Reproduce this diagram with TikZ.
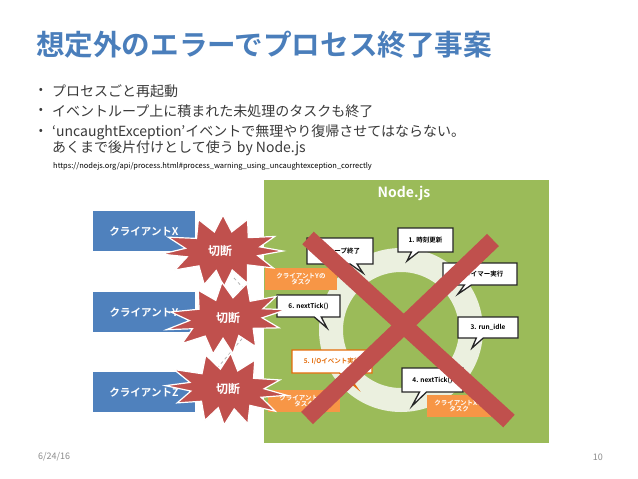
\documentclass[tikz,border=0pt]{standalone}
\usepackage{fontspec}
\setmainfont{Noto Sans CJK JP}[BoldFont={Noto Sans CJK JP Bold}]
\usetikzlibrary{shapes.callouts}
\definecolor{titleblue}{HTML}{4A7EBB}
\definecolor{clientblue}{HTML}{4F81BD}
\definecolor{nodegreen}{HTML}{9BBB59}
\definecolor{ringc}{HTML}{EBF0DF}
\definecolor{xred}{HTML}{C0504D}
\definecolor{taskorange}{HTML}{F79646}
\definecolor{iobrd}{HTML}{E46C0A}
\definecolor{textgray}{HTML}{3A3A3A}
\definecolor{footgray}{HTML}{8C8C8C}
\newcommand{\fs}[1]{\fontsize{#1}{#1}\selectfont}
\tikzset{
  client/.style={fill=clientblue, minimum width=102pt, minimum height=40pt, inner sep=0pt,
    text=white, font=\bfseries\fs{10.5}},
  burstpath/.style={fill=xred, draw=white, line width=1.2pt, line join=miter},
  bursttext/.style={text=white, font=\bfseries\fs{12}, inner sep=0pt},
  bubble/.style={rectangle callout, fill=white, draw=black!85, line width=1.3pt,
    callout pointer width=7pt, inner sep=0pt, font=\bfseries\fs{6.5}, text=black},
  task/.style={fill=taskorange, inner sep=0pt, text=white, font=\bfseries\fs{6.5},
    align=center},
  bul/.style={anchor=west, inner sep=0pt, text=textgray, font=\fs{14}},
  xbar/.style={draw=xred, line width=17pt},
  conn/.style={draw=gray!60, dashed, line width=0.8pt}
}
\newcommand{\burstshape}[2]{%
  \path[burstpath, shift={#1}, rotate=#2]
    (0:60 and 30) -- (15:36 and 18) -- (30:58 and 34) -- (44:34 and 20) -- (58:46 and 38)
    -- (72:30 and 20) -- (88:26 and 36) -- (103:30 and 20) -- (118:40 and 38)
    -- (132:36 and 20) -- (146:58 and 34) -- (160:38 and 17) -- (174:62 and 30)
    -- (189:38 and 17) -- (204:60 and 34) -- (219:34 and 20) -- (236:44 and 38)
    -- (252:28 and 20) -- (270:26 and 36) -- (287:30 and 20) -- (304:44 and 38)
    -- (318:34 and 20) -- (333:58 and 32) -- (346:38 and 17) -- cycle;}
\begin{document}
\begin{tikzpicture}[x=1pt,y=-1pt]
\useasboundingbox (0,0) rectangle (638,479);
\fill[white] (0,0) rectangle (638,479);
% title and bullets
\node[anchor=west, inner sep=0pt, text=titleblue, font=\bfseries\fs{28.6}] (title) at (36,45) {想定外のエラーでプロセス終了事案};
\node[anchor=center, inner sep=0pt, text=textgray, font=\fs{12}] (b1) at (41,91) {•};
\node[anchor=center, inner sep=0pt, text=textgray, font=\fs{12}] (b2) at (41,111) {•};
\node[anchor=center, inner sep=0pt, text=textgray, font=\fs{12}] (b3) at (41,132) {•};
\node[bul] (l1) at (52,91) {プロセスごと再起動};
\node[bul] (l2) at (52,111) {イベントループ上に積まれた未処理のタスクも終了};
\node[bul] (l3) at (52,132) {‘uncaughtException’イベントで無理やり復帰させてはならない。};
\node[bul] (l4) at (52,148) {あくまで後片付けとして使う by Node.js};
\node[anchor=west, inner sep=0pt, text=black, font=\fs{7.5}] (url) at (53,166) {https://nodejs.org/api/process.html\#process\_warning\_using\_uncaughtexception\_correctly};
% Node.js box
\node[fill=nodegreen, minimum width=285pt, minimum height=263pt, inner sep=0pt, anchor=north west] (nodebox) at (264,180) {};
\node[text=white, font=\bfseries\fs{14}, inner sep=0pt] (nodejs) at (404,193) {Node.js};
\node[circle, draw=ringc, line width=24pt, minimum size=140pt, inner sep=0pt] (ring) at (401,330) {};
% clients
\node[client] (cx) at (144,231) {クライアントX};
\node[client] (cy) at (144,312) {クライアントY};
\node[client] (cz) at (144,392) {クライアントZ};
% dashed connections
\coordinate (d1a) at (234,278);
\coordinate (d1b) at (246,291);
\coordinate (d2a) at (246,334);
\coordinate (d2b) at (214,372);
\draw[conn] (d1a) -- (d1b);
\draw[conn] (d2a) -- (d2b);
% callouts
\node[bubble, minimum width=55pt, minimum height=24pt, callout absolute pointer={(407,261)}] (c1) at (425.5,240) {1. 時刻更新};
\node[bubble, minimum width=74pt, minimum height=22pt, callout absolute pointer={(458,294)}] (c2) at (480,274) {2. タイマー実行};
\node[bubble, minimum width=60pt, minimum height=21pt, callout absolute pointer={(472,348)}] (c3) at (488,327.5) {3. run\_idle};
\node[bubble, minimum width=61pt, minimum height=24pt, callout absolute pointer={(412,406)}] (c4) at (432.5,380) {4. nextTick()};
\node[bubble, draw=iobrd, text=iobrd, minimum width=80pt, minimum height=23pt, callout absolute pointer={(357,388)}] (c5) at (332,361.5) {5. I/Oイベント実行};
\node[bubble, minimum width=63pt, minimum height=22pt, callout absolute pointer={(327,328)}] (c6) at (308.5,306) {6. nextTick()};
\node[bubble, minimum width=66pt, minimum height=26pt, callout absolute pointer={(363,273)}] (c7) at (340,251) {7. ループ終了};
% tasks
\node[task, minimum width=72pt, minimum height=22pt] (ty) at (301,279) {クライアントYの\\タスク};
\node[task, minimum width=72pt, minimum height=22pt] (tz) at (304,401) {クライアントZの\\タスク};
\node[task, minimum width=64pt, minimum height=22pt] (tx) at (459,406) {クライアントXの\\タスク};
% bursts
\burstshape{(223,251)}{0}
\node[bursttext] (s1) at (220,251) {切断};
\burstshape{(227,318)}{8}
\node[bursttext] (s2) at (228,318) {切断};
\burstshape{(227,389)}{-6}
\node[bursttext] (s3) at (228,389) {切断};
% red X
\coordinate (xa1) at (308,238);
\coordinate (xa2) at (509,421);
\coordinate (xb1) at (493,240);
\coordinate (xb2) at (307,418);
\draw[xbar] (xa1) -- (xa2);
\draw[xbar] (xb1) -- (xb2);
% footer
\node[anchor=west, inner sep=0pt, text=footgray, font=\fs{9}] (date) at (38,457) {6/24/16};
\node[anchor=east, inner sep=0pt, text=footgray, font=\fs{9}] (page) at (603,457) {10};
\end{tikzpicture}
\end{document}
